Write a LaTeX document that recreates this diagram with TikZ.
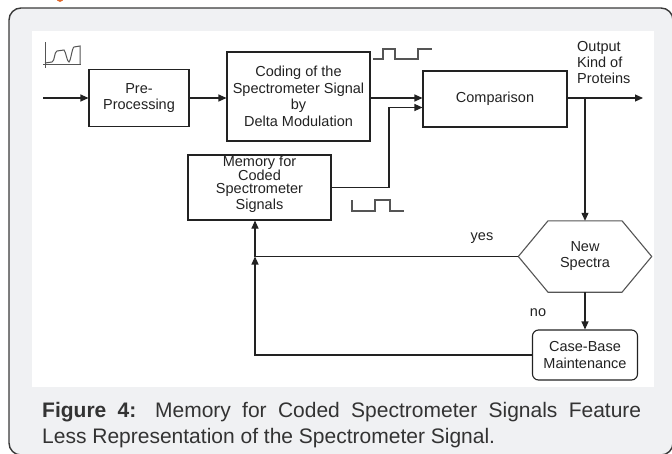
\documentclass[tikz,border=0pt]{standalone}
\usepackage{fontspec}
\setmainfont{Liberation Sans}
\usetikzlibrary{arrows.meta,calc}
\definecolor{framefill}{HTML}{F0F1F3}
\definecolor{framedraw}{HTML}{3A3A3A}
\definecolor{ink}{HTML}{222222}
\definecolor{wave}{HTML}{555555}
\definecolor{capcol}{HTML}{333333}
\definecolor{accent}{HTML}{E0672A}
\begin{document}
\begin{tikzpicture}[x=1pt,y=-1pt,
  box/.style={draw=ink, line width=1.1pt, fill=white, inner sep=0pt, align=center,
              font=\fontsize{14.5}{16.5}\selectfont, text=ink},
  conn/.style={draw=ink, line width=1.1pt},
  arr/.style={conn, -{Triangle[length=8pt,width=7pt]}},
  lbl/.style={font=\fontsize{14.5}{16}\selectfont, text=ink, inner sep=0pt},
  wavestyle/.style={draw=wave, line width=1.2pt}]
\useasboundingbox (0,0) rectangle (672,453);
\begin{scope}
\clip (0,0) rectangle (672,453);
\fill[accent] (60,-3) ellipse (4 and 5);
\draw[fill=framefill, draw=framedraw, line width=1.4pt, rounded corners=12pt] (9,8) rectangle (673,455);
\end{scope}
\fill[white] (32,31) rectangle (654,387);

% input icon
\draw[wavestyle, line width=1pt] (45,42) -- (45,68);
\draw[wavestyle, line width=1pt] (43,64) -- (81,64);
\draw[wavestyle, line width=1pt] (45,63) -- (52,62) .. controls (55,61) and (54,52) .. (57,51) -- (64,50) .. controls (66,52) and (67,62) .. (69,62) .. controls (71,60) and (72,48) .. (74,47) -- (80,46) -- (80,64);

% square waves
\draw[wavestyle] (373,59) -- (383,59) -- (383,49) -- (395,49) -- (395,59) -- (418,59) -- (418,49) -- (432,49);
\draw[wavestyle] (352,200) -- (352,211) -- (375,211) -- (375,200) -- (390,200) -- (390,211) -- (404,211);

% blocks
\node[box, minimum width=100pt, minimum height=57pt] (pre) at (139,98) {Pre-\\Processing};
\node[box, minimum width=143pt, minimum height=89pt] (coding) at (298.5,96.5) {Coding of the\\Spectrometer Signal\\by\\Delta Modulation};
\node[box, minimum width=144pt, minimum height=56pt] (comp) at (495,99) {Comparison};
\node[box, minimum width=143pt, minimum height=65pt] (mem) at (259.5,187.5) {};
\node[lbl, align=center, font=\fontsize{14.5}{13.8}\selectfont] (memtext) at (259.5,184) {Memory for\\Coded\\Spectrometer\\[1.5pt]Signals};
\node[box, rounded corners=6pt, minimum width=105pt, minimum height=50pt] (cbm) at (585,355) {Case-Base\\Maintenance};
\node[lbl, align=center, minimum width=133pt, minimum height=71pt] (hex) at (585,256.5) {New\\Spectra};
\draw[draw=wave, line width=1.1pt] (hex.west) -- ($(hex.north)+(-37,0)$) -- ($(hex.north)+(37,0)$) -- (hex.east) -- ($(hex.south)+(37,0)$) -- ($(hex.south)+(-37,0)$) -- cycle;

\node[lbl, align=left, anchor=west] (outlbl) at (577,63) {Output\\Kind of\\Proteins};
\node[lbl] (yes) at (482,238) {yes};
\node[lbl] (no) at (538,313) {no};

% connectors
\coordinate (in) at (43,98);
\coordinate (out) at (643,98);
\coordinate (br) at (585,98);
\coordinate (jn) at (389,107.5);
\coordinate (yj) at (255,256.5);
\draw[arr] (in) -- (pre.west);
\draw[arr] (pre.east) -- (pre.east -| coding.west);
\draw[arr] (coding.east |- in) -- (comp.west |- in);
\draw[arr] (mem.east) -| (jn) -- (jn -| comp.west);
\draw[arr] (comp.east |- in) -- (out);
\draw[arr] (br) -- (hex.north);
\draw[arr] (hex.south) -- (cbm.north);
\draw[conn] (hex.west) -- (yj);
\draw[arr] (yj) -- (yj |- mem.south);
\draw[arr] (cbm.west) -| (yj);

% caption
\node[anchor=base west, inner sep=0pt, font=\fontsize{21}{26}\selectfont, text=capcol] (cap1) at (42,417)
  {\makebox[599pt][s]{\textbf{Figure 4:} Memory for Coded Spectrometer Signals Feature}};
\node[anchor=base west, inner sep=0pt, font=\fontsize{21}{26}\selectfont, text=capcol] (cap2) at (42,443)
  {Less Representation of the Spectrometer Signal.};
\end{tikzpicture}
\end{document}
